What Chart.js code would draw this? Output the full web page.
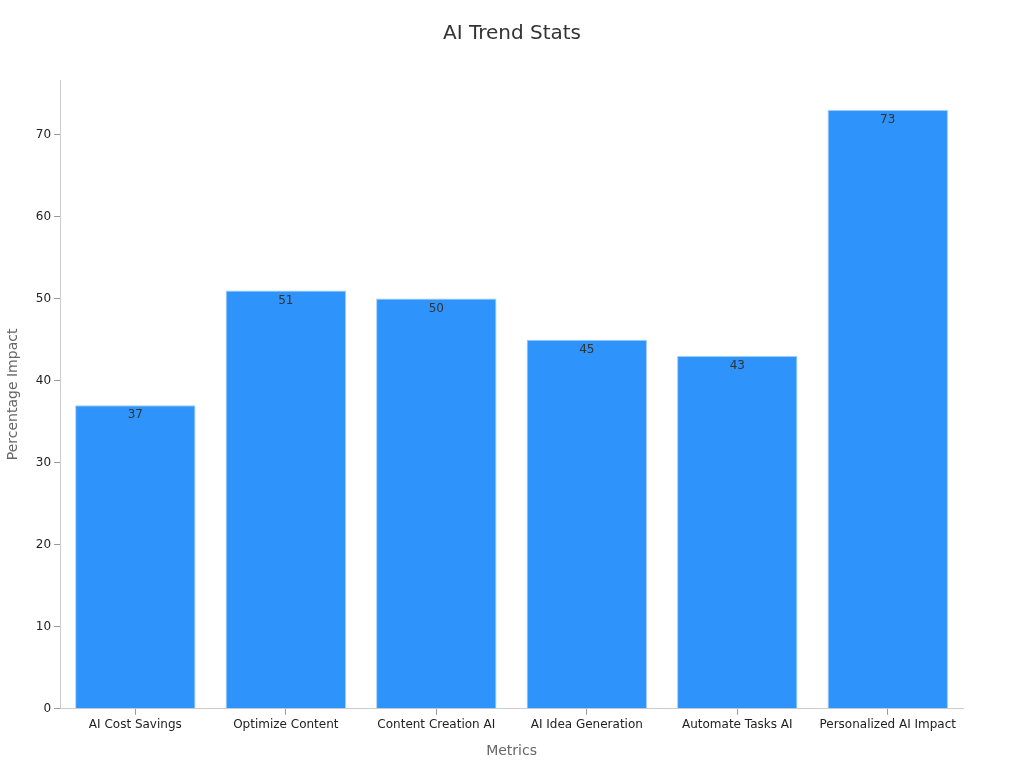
<!DOCTYPE html>
<html>
<head>
<meta charset="utf-8">
<script src="https://cdn.jsdelivr.net/npm/chart.js@4"></script>
<style>
  html, body { margin: 0; padding: 0; background: #fff; }
  #wrap { width: 1024px; height: 768px; }
</style>
</head>
<body>
<div id="wrap"><canvas id="chart"></canvas></div>
<script>
let chartTitle = 'AI Trend Stats';
let categories = ['AI Cost Savings', 'Optimize Content', 'Content Creation AI', 'AI Idea Generation', 'Automate Tasks AI', 'Personalized AI Impact'];
let impactValues = [37, 51, 50, 45, 43, 73];
let yTicks = [0, 10, 20, 30, 40, 50, 60, 70];

Chart.defaults.font.family = 'DejaVu Sans';

// value just inside the top of each bar
let barLabels = {
    id: 'barLabels',
    afterDatasetsDraw(chart) {
        let ctx = chart.ctx;
        let meta = chart.getDatasetMeta(0);
        ctx.save();
        ctx.font = '12px DejaVu Sans';
        ctx.fillStyle = '#333333';
        ctx.textAlign = 'center';
        ctx.textBaseline = 'middle';
        meta.data.forEach((bar, i) => {
            ctx.fillText(impactValues[i], bar.x, bar.y + 10);
        });
        ctx.restore();
    }
};

// title centred on the whole canvas, not on the padded box
let pageTitle = {
    id: 'pageTitle',
    afterDraw(chart) {
        let ctx = chart.ctx;
        ctx.save();
        ctx.font = '20px DejaVu Sans';
        ctx.fillStyle = '#333333';
        ctx.textAlign = 'center';
        ctx.textBaseline = 'middle';
        ctx.fillText(chartTitle, chart.width / 2, 34);
        ctx.restore();
    }
};

let chart = new Chart(document.getElementById('chart'), {
    type: 'bar',
    data: {
        labels: categories,
        datasets: [{
            data: impactValues,
            backgroundColor: 'rgb(46, 147, 250)',
            borderColor: 'rgb(160, 204, 248)',
            borderWidth: 1,
            categoryPercentage: 0.8,
            barPercentage: 1
        }]
    },
    options: {
        responsive: true,
        maintainAspectRatio: false,
        animation: false,
        layout: { padding: { left: 1, right: 61, top: 80, bottom: 4 } },
        plugins: {
            legend: { display: false },
            tooltip: { enabled: false },
            title: { display: false }
        },
        scales: {
            x: {
                grid: { display: true, offset: false, drawOnChartArea: false, tickLength: 6, color: '#999999' },
                border: { color: '#cccccc' },
                ticks: { color: '#222222', font: { size: 12 }, maxRotation: 0, padding: 3 },
                title: { display: true, text: 'Metrics', color: '#666666', font: { size: 14 }, padding: { top: 8 } }
            },
            y: {
                min: 0,
                max: Math.max(...impactValues) * 1.05,
                afterBuildTicks: axis => {
                    axis.ticks = yTicks.map(v => ({ value: v }));
                },
                grid: { display: true, drawOnChartArea: false, tickLength: 6, color: '#999999' },
                border: { color: '#cccccc' },
                ticks: { color: '#222222', font: { size: 12 }, padding: 3 },
                title: { display: true, text: 'Percentage Impact', color: '#666666', font: { size: 14 }, padding: { top: 4, bottom: 11 } }
            }
        }
    },
    plugins: [barLabels, pageTitle]
});
</script>
</body>
</html>
